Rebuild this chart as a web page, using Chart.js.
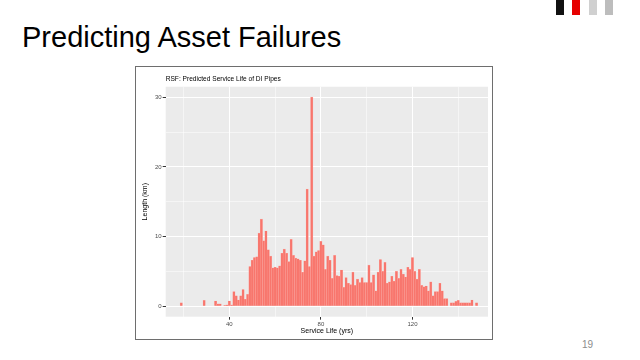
<!DOCTYPE html>
<html>
<head>
<meta charset="utf-8">
<script src="https://cdn.jsdelivr.net/npm/chart.js@4.4.0/dist/chart.umd.min.js"></script>
<style>
  html, body { margin: 0; padding: 0; background: #fff; }
  body { width: 640px; height: 360px; position: relative; overflow: hidden; font-family: "Liberation Sans", Arial, sans-serif; }
  .title { position: absolute; left: 22px; top: 23px; font-size: 29px; line-height: 1; color: #000; white-space: nowrap; }
  .sq { position: absolute; top: 0; width: 8px; height: 15px; }
  .page { position: absolute; left: 582px; top: 339px; font-size: 10px; color: #8c8c8c; }
  .frame { position: absolute; left: 135px; top: 66px; border: 1px solid #6e6e6e; background: #fff; }
  .box { width: 356px; height: 272px; position: relative; }
</style>
</head>
<body>
<div class="title">Predicting Asset Failures</div>
<div class="sq" style="left:556px;background:#111;"></div>
<div class="sq" style="left:572px;background:#e60000;"></div>
<div class="sq" style="left:589px;background:#d0d0d0;"></div>
<div class="sq" style="left:605px;background:#bdbdbd;"></div>
<div class="page">19</div>
<div class="frame"><div class="box"><canvas id="hist"></canvas></div></div>
<script>
// service life bins (yrs) and pipe length (km) per bin
const serviceLife = [19, 29, 34, 35, 36, 38, 39, 40, 41, 42, 43, 44, 45, 46, 47, 48, 49, 50,
  51, 52, 53, 54, 55, 56, 57, 58, 59, 60, 61, 62, 63, 64, 65, 66, 67, 68, 69, 70,
  71, 72, 73, 74, 75, 76, 77, 78, 79, 80, 81, 82, 83, 84, 85, 86, 87, 88, 89, 90,
  91, 92, 93, 94, 95, 96, 97, 98, 99, 100, 101, 102, 103, 104, 105, 106, 107, 108, 109, 110,
  111, 112, 113, 114, 115, 116, 117, 118, 119, 120, 121, 122, 123, 124, 125, 126, 127, 128, 129, 130,
  131, 132, 133, 134, 135, 137, 138, 139, 140, 141, 142, 143, 144, 145, 146, 148];
const lengthKm = [0.5, 0.85, 0.75, 0.35, 0.35, 0.1, 0.2, 0.75, 0.2, 2.1, 1.5, 0.9, 1.5, 2.4, 1.0, 1.7, 5.7, 6.6,
  7.0, 7.1, 10.5, 12.5, 9.4, 10.8, 8.1, 7.2, 5.5, 5.6, 5.5, 5.8, 7.6, 8.2, 7.6, 6.4, 9.6, 7.3, 6.9, 6.8,
  6.6, 4.9, 6.5, 16.8, 5.7, 30, 7.2, 7.8, 8.0, 9.3, 8.8, 5.3, 7.2, 6.6, 4.0, 7.3, 4.4, 4.3, 5.2, 2.7,
  4.1, 3.3, 3.1, 4.9, 3.0, 3.9, 3.4, 4.1, 3.4, 3.4, 5.9, 3.4, 4.5, 2.2, 4.9, 6.7, 5.0, 6.3, 3.3, 3.5,
  4.3, 3.6, 5.0, 4.0, 5.3, 4.6, 4.2, 5.6, 5.3, 7.0, 5.0, 3.9, 5.3, 3.0, 2.8, 2.9, 2.2, 3.5, 1.5, 2.1,
  2.1, 3.3, 2.2, 1.1, 1.1, 0.5, 0.5, 0.7, 0.85, 0.5, 0.5, 0.5, 0.5, 0.5, 0.9, 0.5];

const xGrid = [20, 40, 60, 80, 100, 120, 140];
const xLabels = [40, 80, 120];
const yGrid = [0, 5, 10, 15, 20, 25, 30];
const yLabels = [0, 10, 20, 30];

const FONT = '"Liberation Sans", Arial, sans-serif';

// ggplot grey panel behind the grid
const panelBg = {
  id: 'panelBg',
  beforeDraw(chart) {
    const a = chart.chartArea;
    const c = chart.ctx;
    c.save();
    c.fillStyle = '#ebebeb';
    c.fillRect(a.left, a.top, a.right - a.left, a.bottom - a.top);
    c.restore();
  }
};

const isMajor = (list, ctx) => ctx.tick && list.includes(ctx.tick.value);

new Chart(document.getElementById('hist'), {
  type: 'bar',
  data: {
    datasets: [{
      data: serviceLife.map((x, i) => ({ x: x, y: lengthKm[i] })),
      backgroundColor: '#f8766d',
      borderColor: '#fbaaa4',
      borderWidth: 0.4,
      barPercentage: 1,
      categoryPercentage: 1
    }]
  },
  options: {
    responsive: true,
    maintainAspectRatio: false,
    animation: false,
    layout: { padding: { left: 0, right: 4, top: 0, bottom: 0 } },
    plugins: {
      legend: { display: false },
      tooltip: { enabled: false },
      title: {
        display: true,
        text: 'RSF: Predicted Service Life of DI Pipes',
        align: 'start',
        fullSize: false,
        color: '#000',
        font: { family: FONT, size: 6.6, weight: 'normal', lineHeight: 1.2 },
        padding: { top: 8.5, bottom: 3.3 }
      }
    },
    scales: {
      x: {
        type: 'linear',
        min: 12.2,
        max: 153,
        offset: false,
        afterBuildTicks: s => { s.ticks = xGrid.map(v => ({ value: v })); },
        afterFit: s => { s.height = 22.3; },
        border: { display: false },
        grid: {
          offset: false,
          color: '#ffffff',
          lineWidth: c => isMajor(xLabels, c) ? 1 : 0.5,
          tickLength: 3,
          tickColor: c => isMajor(xLabels, c) ? '#333333' : 'rgba(0,0,0,0)'
        },
        ticks: {
          autoSkip: false,
          maxRotation: 0,
          padding: 1,
          color: '#4d4d4d',
          font: { family: FONT, size: 6 },
          callback: v => xLabels.includes(v) ? String(v) : ''
        },
        title: {
          display: true,
          text: 'Service Life (yrs)',
          color: '#000',
          font: { family: FONT, size: 7 },
          padding: { top: 0, bottom: 3.5 }
        }
      },
      y: {
        min: -1.5,
        max: 31.5,
        afterBuildTicks: s => { s.ticks = yGrid.map(v => ({ value: v })); },
        afterFit: s => { s.width = 29.7; },
        border: { display: false },
        grid: {
          color: '#ffffff',
          lineWidth: c => isMajor(yLabels, c) ? 1 : 0.5,
          tickLength: 3,
          tickColor: c => isMajor(yLabels, c) ? '#333333' : 'rgba(0,0,0,0)'
        },
        ticks: {
          autoSkip: false,
          padding: 1,
          color: '#4d4d4d',
          font: { family: FONT, size: 6 },
          callback: v => yLabels.includes(v) ? String(v) : ''
        },
        title: {
          display: true,
          text: 'Length (km)',
          color: '#000',
          font: { family: FONT, size: 7 },
          padding: { top: 4.8, bottom: 0 }
        }
      }
    }
  },
  plugins: [panelBg]
});
</script>
</body>
</html>
